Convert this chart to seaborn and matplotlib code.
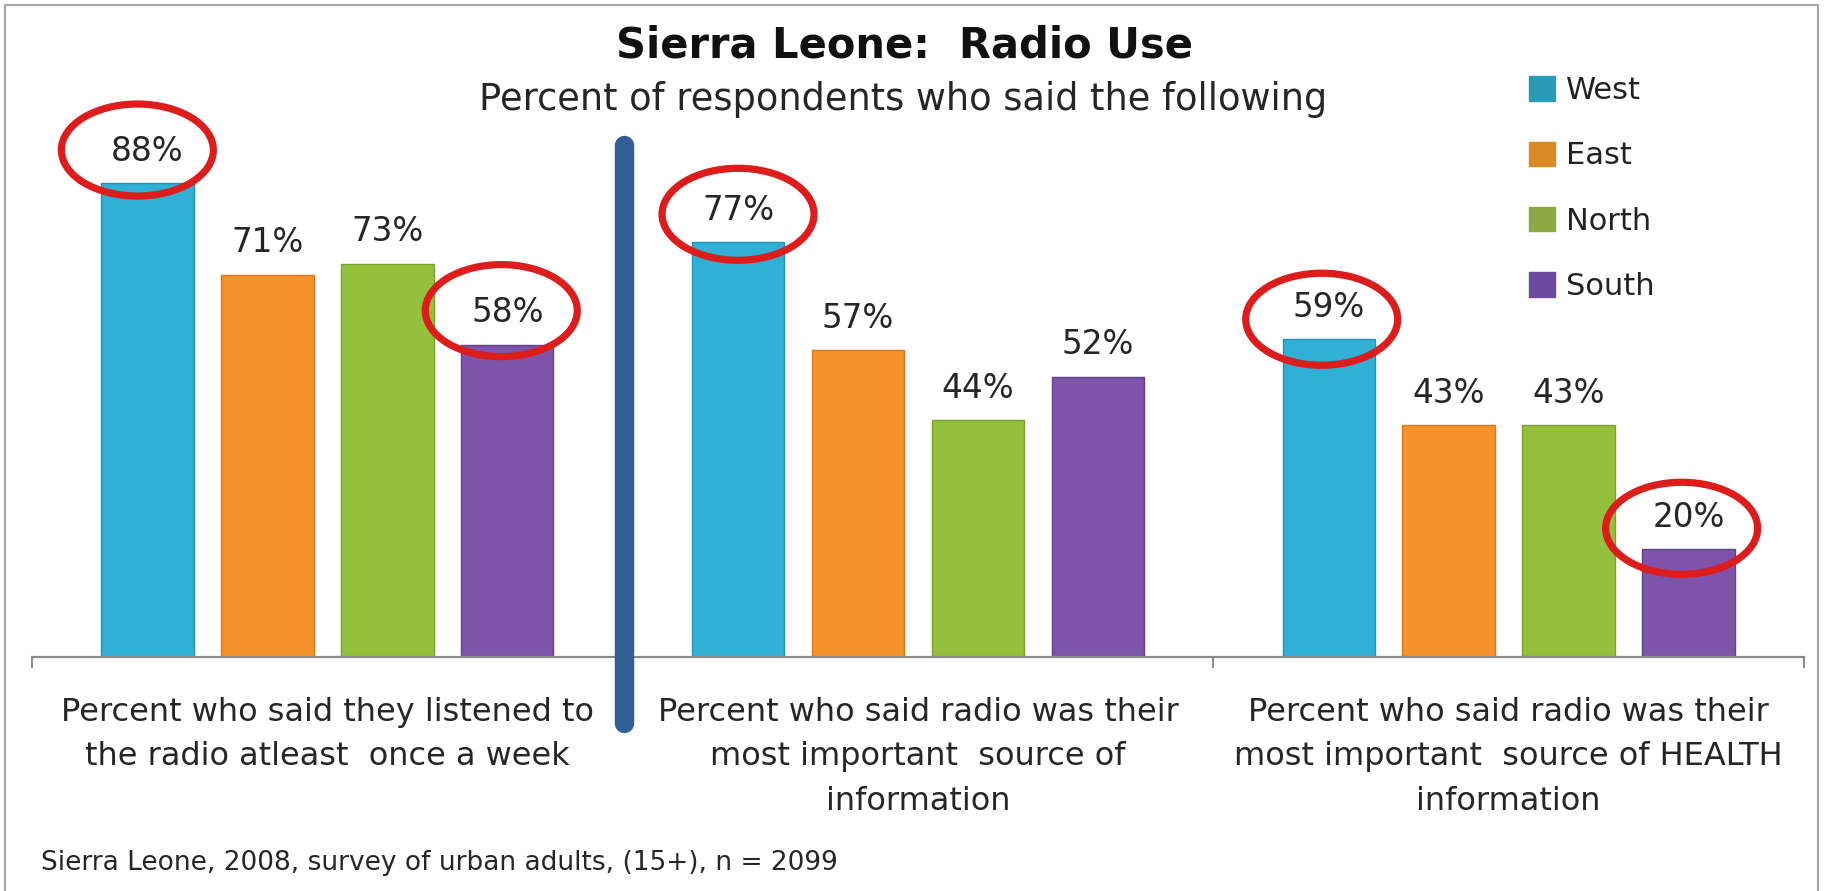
import matplotlib
matplotlib.use("Agg")
import matplotlib.pyplot as plt
from matplotlib.patches import Ellipse, Patch
from matplotlib.lines import Line2D
import seaborn as sns
import pandas as pd

# ---- data -------------------------------------------------------------
questions = [
    "Percent who said they listened to\nthe radio atleast  once a week",
    "Percent who said radio was their\nmost important  source of\ninformation",
    "Percent who said radio was their\nmost important  source of HEALTH\ninformation",
]
regions = ["West", "East", "North", "South"]
west = [88, 77, 59]
east = [71, 57, 43]
north = [73, 44, 43]
south = [58, 52, 20]
# (region, question index) pairs that get a red circle
circled = [("West", 0), ("South", 0), ("West", 1), ("West", 2), ("South", 2)]

title = "Sierra Leone:  Radio Use"
subtitle = "Percent of respondents who said the following"
footnote = "Sierra Leone, 2008, survey of urban adults, (15+), n = 2099"

# ---- styling ----------------------------------------------------------
bar_colors = ["#2fb0d4", "#f5922a", "#94c13b", "#7d54aa"]
edge_colors = ["#2392b4", "#d8781c", "#79a12b", "#63408d"]
legend_colors = ["#2b9ab8", "#d98a27", "#8aa944", "#6b4aa0"]
# hand-drawn circles: pixel nudges (dx, dy above bar top) per circle
circle_nudge = [(-10, 33), (-6, 34), (0, 28), (-7, 20), (-7, 21)]

df = pd.DataFrame({
    "question": questions * 4,
    "region": [r for r in regions for _ in questions],
    "value": west + east + north + south,
})

# ---- figure -----------------------------------------------------------
sns.set_theme(style="white")
plt.rcParams["font.family"] = ["DejaVu Sans"]
plt.rcParams["text.color"] = "#222222"

W, H = 1829, 891
fig = plt.figure(figsize=(W / 100, H / 100), dpi=100)
fig.patch.set_facecolor("white")

base_y, top_y = 657, 118.4
left_x, right_x = 32, 1804
ax = fig.add_axes([left_x / W, (H - base_y) / H,
                   (right_x - left_x) / W, (base_y - top_y) / H])

sns.barplot(data=df, x="question", y="value", hue="region",
            order=questions, hue_order=regions, palette=bar_colors,
            saturation=1, width=0.8125, gap=0.23, legend=False, ax=ax,
            linewidth=1.0)

ax.set_xlim(-0.5, 2.5)
ax.set_ylim(0, 100)
ax.set_xlabel("")
ax.set_ylabel("")
ax.set_yticks([])
for s in ["top", "right", "left"]:
    ax.spines[s].set_visible(False)
ax.spines["bottom"].set_color("#8a8a8a")
ax.spines["bottom"].set_linewidth(1.6)

px_x = (right_x - left_x) / 3.0      # pixels per category
px_y = (base_y - top_y) / 100.0      # pixels per percent

# category boundary ticks
ax.set_xticks([-0.5, 0.5, 1.5, 2.5], minor=True)
ax.tick_params(axis="x", which="minor", bottom=True, length=8,
               width=1.4, color="#8a8a8a")
ax.set_xticks(range(len(questions)))
ax.set_xticklabels(questions, fontsize=23, linespacing=1.55,
                   color="#262626")
ax.tick_params(axis="x", which="major", length=0, pad=29)

# bar edges, value labels and circles
for ci, container in enumerate(ax.containers):
    region = regions[ci]
    for qi, patch in enumerate(container.patches):
        patch.set_edgecolor(edge_colors[ci])
        xc = patch.get_x() + patch.get_width() / 2
        h = patch.get_height()
        ax.annotate(f"{h:.0f}%", (xc, h), xytext=(0, 23),
                    textcoords="offset points", ha="center", va="center",
                    fontsize=23.5, color="#262626")
        if (region, qi) in circled:
            dx, dy = circle_nudge[circled.index((region, qi))]
            ax.add_patch(Ellipse((xc + dx / px_x, h + dy / px_y),
                                 152 / px_x, 92 / px_y,
                                 fill=False, edgecolor="#dd1c1c",
                                 linewidth=5.2, zorder=5, clip_on=False))

# legend
handles = [Patch(facecolor=c, edgecolor=c, label=r)
           for c, r in zip(legend_colors, regions)]
fig.legend(handles=handles, loc="upper left",
           bbox_to_anchor=(1529 / W, 1 - 76 / H), frameon=False,
           fontsize=22, handlelength=0.85, handleheight=0.85,
           handletextpad=0.35, labelspacing=1.19, borderpad=0,
           borderaxespad=0)

# titles and footnote
fig.text(905 / W, 1 - 57 / H, title, ha="center", va="baseline",
         fontsize=30, fontweight="bold", color="#111111")
fig.text(903 / W, 1 - 110 / H, subtitle, ha="center", va="baseline",
         fontsize=26.5, color="#262626")
fig.text(41 / W, 1 - 870 / H, footnote, ha="left", va="baseline",
         fontsize=19, color="#262626")

# vertical divider between the first and second question
fig.add_artist(Line2D([624 / W, 624 / W], [1 - 145 / H, 1 - 723 / H],
                      transform=fig.transFigure, color="#2f5f95",
                      linewidth=14, solid_capstyle="round"))

# outer frame
fig.add_artist(Line2D([5 / W, 5 / W, 1818 / W, 1818 / W],
                      [0, 1 - 5 / H, 1 - 5 / H, 0],
                      transform=fig.transFigure, color="#a6a6a6",
                      linewidth=1.5))

fig.savefig("out.png", dpi=100, facecolor="white")
